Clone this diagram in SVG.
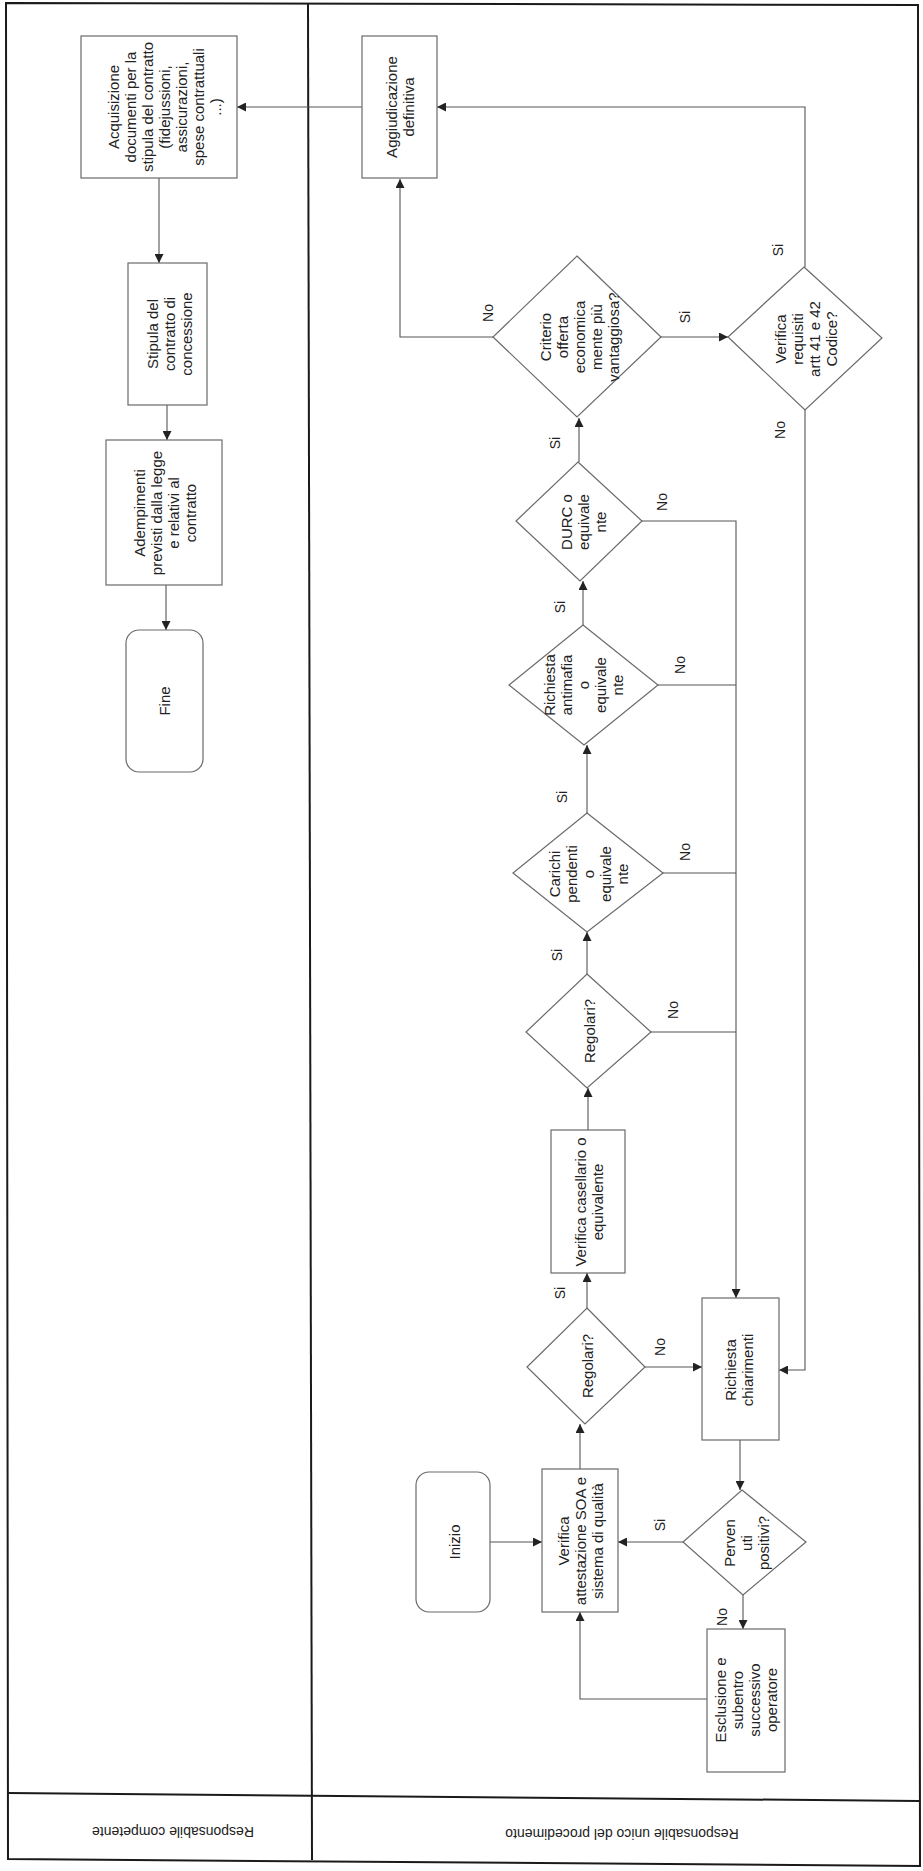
<svg xmlns="http://www.w3.org/2000/svg" width="923" height="1871" viewBox="0 0 923 1871">
<style>
.frame{fill:none;stroke:#1a1a1a;stroke-width:2}
.box{fill:#fff;stroke:#6a6a6a;stroke-width:1.2}
.t{font-family:"Liberation Sans",Arial,sans-serif;font-size:15px;fill:#222;text-anchor:middle}
.lbl{font-family:"Liberation Sans",Arial,sans-serif;font-size:14px;fill:#222;text-anchor:middle}
.hd{font-family:"Liberation Sans",Arial,sans-serif;font-size:14px;fill:#222;text-anchor:middle}
.c{fill:none;stroke:#555;stroke-width:1.1;marker-end:url(#ah)}
.cn{fill:none;stroke:#555;stroke-width:1.1}
</style>
<defs>
<marker id="ah" markerUnits="userSpaceOnUse" markerWidth="10" markerHeight="9" viewBox="0 0 10 10" refX="10" refY="5" orient="auto">
<path d="M0,0 L10,5 L0,10 z" fill="#222"/>
</marker>
</defs>
<rect x="0" y="0" width="923" height="1871" fill="#fff"/>
<g id="swimlanes">
<polygon class="frame" points="6,3 918,5 920,1866 8,1859"/>
<line class="frame" x1="308" y1="4" x2="312" y2="1860"/>
<line class="frame" x1="8" y1="1793" x2="919" y2="1801"/>
<text class="hd" transform="translate(173,1827) rotate(180)">Responsabile competente</text>
<text class="hd" transform="translate(622,1829) rotate(180)">Responsabile unico del procedimento</text>
</g>
<g id="connectors">
<path class="c" d="M362,107 H237"/>
<path class="c" d="M159,178 V263"/>
<path class="c" d="M167,405 V440"/>
<path class="c" d="M166,585 V630"/>
<path class="c" d="M493,337 H400 V179"/>
<path class="c" d="M661,337 H728"/>
<path class="c" d="M805,267 V107 H437"/>
<path class="c" d="M805,410 V1370 H779"/>
<path class="c" d="M579,462 V418"/>
<path class="c" d="M642,521 H736 V1298"/>
<path class="c" d="M583,625 V581"/>
<path class="cn" d="M658,685 H736"/>
<path class="c" d="M587,813 V745"/>
<path class="cn" d="M663,873 H736"/>
<path class="c" d="M587,974 V932"/>
<path class="cn" d="M651,1032 H736"/>
<path class="c" d="M588,1130 V1088"/>
<path class="c" d="M587,1308 V1273"/>
<path class="c" d="M645,1367 H702"/>
<path class="c" d="M580,1469 V1424"/>
<path class="c" d="M490,1542 H542"/>
<path class="c" d="M740,1440 V1490"/>
<path class="c" d="M683,1542 H618"/>
<path class="c" d="M743,1595 V1629"/>
<path class="c" d="M707,1699 H580 V1612"/>
<g id="labels">
<text class="lbl" transform="translate(493,313) rotate(-90)">No</text>
<text class="lbl" transform="translate(690,317) rotate(-90)">Si</text>
<text class="lbl" transform="translate(783,250) rotate(-90)">Si</text>
<text class="lbl" transform="translate(785,430) rotate(-90)">No</text>
<text class="lbl" transform="translate(560,443) rotate(-90)">Si</text>
<text class="lbl" transform="translate(667,502) rotate(-90)">No</text>
<text class="lbl" transform="translate(565,607) rotate(-90)">Si</text>
<text class="lbl" transform="translate(685,665) rotate(-90)">No</text>
<text class="lbl" transform="translate(567,797) rotate(-90)">Si</text>
<text class="lbl" transform="translate(690,852) rotate(-90)">No</text>
<text class="lbl" transform="translate(562,955) rotate(-90)">Si</text>
<text class="lbl" transform="translate(678,1010) rotate(-90)">No</text>
<text class="lbl" transform="translate(565,1293) rotate(-90)">Si</text>
<text class="lbl" transform="translate(665,1347) rotate(-90)">No</text>
<text class="lbl" transform="translate(665,1525) rotate(-90)">Si</text>
<text class="lbl" transform="translate(727,1617) rotate(-90)">No</text>
</g>
</g>
<g id="n-acquisizione">
<rect class="box" x="81" y="36" width="156" height="142"/>
<text class="t" transform="translate(165,107) rotate(-90)"><tspan x="0" y="-46">Acquisizione</tspan><tspan x="0" y="-29">documenti per la</tspan><tspan x="0" y="-12">stipula del contratto</tspan><tspan x="0" y="5">(fidejussioni,</tspan><tspan x="0" y="22">assicurazioni,</tspan><tspan x="0" y="39">spese contrattuali</tspan><tspan x="0" y="56">...)</tspan></text>
</g>
<g id="n-stipula">
<rect class="box" x="128" y="263" width="79" height="142"/>
<text class="t" transform="translate(170,334) rotate(-90)"><tspan x="0" y="-12">Stipula del</tspan><tspan x="0" y="5">contratto di</tspan><tspan x="0" y="22">concessione</tspan></text>
</g>
<g id="n-adempimenti">
<rect class="box" x="106" y="440" width="116" height="145"/>
<text class="t" transform="translate(166,513) rotate(-90)"><tspan x="0" y="-21">Adempimenti</tspan><tspan x="0" y="-4">previsti dalla legge</tspan><tspan x="0" y="13">e relativi al</tspan><tspan x="0" y="30">contratto</tspan></text>
</g>
<g id="n-fine">
<rect class="box" x="126" y="630" width="77" height="142" rx="13" ry="13"/>
<text class="t" transform="translate(165,701) rotate(-90)"><tspan x="0" y="5">Fine</tspan></text>
</g>
<g id="n-aggiudicazione">
<rect class="box" x="362" y="36" width="75" height="142"/>
<text class="t" transform="translate(401,107) rotate(-90)"><tspan x="0" y="-4">Aggiudicazione</tspan><tspan x="0" y="13">definitiva</tspan></text>
</g>
<g id="n-criterio">
<polygon class="box" points="577,256 661,337 577,417 493,337"/>
<text class="t" transform="translate(580,337) rotate(-90)"><tspan x="0" y="-29">Criterio</tspan><tspan x="0" y="-12">offerta</tspan><tspan x="0" y="5">economica</tspan><tspan x="0" y="22">mente più</tspan><tspan x="0" y="39">vantaggiosa?</tspan></text>
</g>
<g id="n-requisiti">
<polygon class="box" points="804,267 882,338 805,410 728,337"/>
<text class="t" transform="translate(807,339) rotate(-90)"><tspan x="0" y="-21">Verifica</tspan><tspan x="0" y="-4">requisiti</tspan><tspan x="0" y="13">artt 41 e 42</tspan><tspan x="0" y="30">Codice?</tspan></text>
</g>
<g id="n-durc">
<polygon class="box" points="578,462 642,521 580,581 516,521"/>
<text class="t" transform="translate(584,522) rotate(-90)"><tspan x="0" y="-12">DURC o</tspan><tspan x="0" y="5">equivale</tspan><tspan x="0" y="22">nte</tspan></text>
</g>
<g id="n-antimafia">
<polygon class="box" points="583,625 658,685 584,745 509,685"/>
<text class="t" transform="translate(584,685) rotate(-90)"><tspan x="0" y="-29">Richiesta</tspan><tspan x="0" y="-12">antimafia</tspan><tspan x="0" y="5">o</tspan><tspan x="0" y="22">equivale</tspan><tspan x="0" y="39">nte</tspan></text>
</g>
<g id="n-carichi">
<polygon class="box" points="587,813 663,873 587,932 513,873"/>
<text class="t" transform="translate(589,874) rotate(-90)"><tspan x="0" y="-29">Carichi</tspan><tspan x="0" y="-12">pendenti</tspan><tspan x="0" y="5">o</tspan><tspan x="0" y="22">equivale</tspan><tspan x="0" y="39">nte</tspan></text>
</g>
<g id="n-regolari2">
<polygon class="box" points="587,974 651,1032 587,1088 526,1032"/>
<text class="t" transform="translate(590,1031) rotate(-90)"><tspan x="0" y="5">Regolari?</tspan></text>
</g>
<g id="n-casellario">
<rect class="box" x="551" y="1130" width="74" height="143"/>
<text class="t" transform="translate(590,1202) rotate(-90)"><tspan x="0" y="-4">Verifica casellario o</tspan><tspan x="0" y="13">equivalente</tspan></text>
</g>
<g id="n-regolari1">
<polygon class="box" points="587,1308 645,1367 585,1424 527,1367"/>
<text class="t" transform="translate(588,1366) rotate(-90)"><tspan x="0" y="5">Regolari?</tspan></text>
</g>
<g id="n-richiesta">
<rect class="box" x="702" y="1298" width="77" height="142"/>
<text class="t" transform="translate(740,1370) rotate(-90)"><tspan x="0" y="-4">Richiesta</tspan><tspan x="0" y="13">chiarimenti</tspan></text>
</g>
<g id="n-pervenuti">
<polygon class="box" points="742,1490 806,1542 743,1595 683,1542"/>
<text class="t" transform="translate(747,1543) rotate(-90)"><tspan x="0" y="-12">Perven</tspan><tspan x="0" y="5">uti</tspan><tspan x="0" y="22">positivi?</tspan></text>
</g>
<g id="n-inizio">
<rect class="box" x="416" y="1472" width="74" height="140" rx="13" ry="13"/>
<text class="t" transform="translate(455,1542) rotate(-90)"><tspan x="0" y="5">Inizio</tspan></text>
</g>
<g id="n-soa">
<rect class="box" x="542" y="1469" width="76" height="143"/>
<text class="t" transform="translate(581,1541) rotate(-90)"><tspan x="0" y="-12">Verifica</tspan><tspan x="0" y="5">attestazione SOA e</tspan><tspan x="0" y="22">sistema di qualità</tspan></text>
</g>
<g id="n-esclusione">
<rect class="box" x="707" y="1629" width="78" height="143"/>
<text class="t" transform="translate(747,1700) rotate(-90)"><tspan x="0" y="-21">Esclusione e</tspan><tspan x="0" y="-4">subentro</tspan><tspan x="0" y="13">successivo</tspan><tspan x="0" y="30">operatore</tspan></text>
</g>
</svg>
